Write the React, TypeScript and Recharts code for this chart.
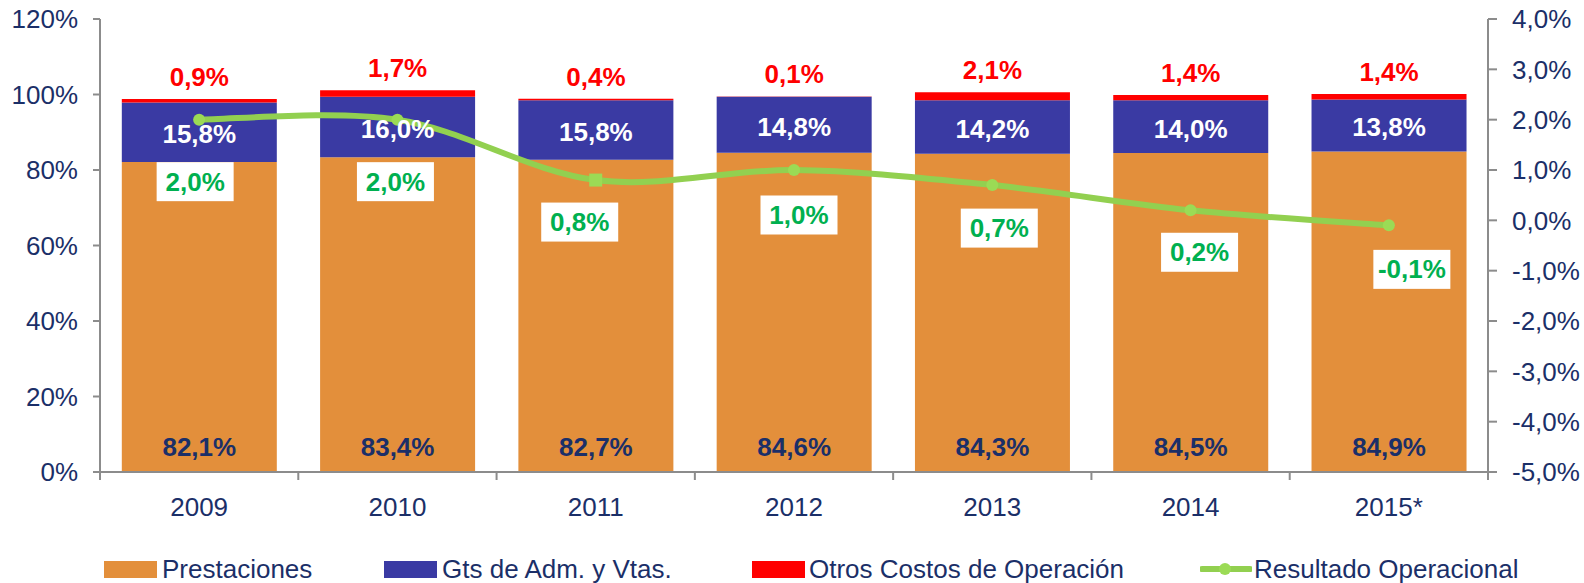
import { ComposedChart, Bar, Line, XAxis, YAxis, Legend, LabelList } from "recharts";

const years = ["2009", "2010", "2011", "2012", "2013", "2014", "2015*"];
const prestaciones = [82.1, 83.4, 82.7, 84.6, 84.3, 84.5, 84.9];
const gastosAdm = [15.8, 16.0, 15.8, 14.8, 14.2, 14.0, 13.8];
const otrosCostos = [0.9, 1.7, 0.4, 0.1, 2.1, 1.4, 1.4];
const resultado = [2.0, 2.0, 0.8, 1.0, 0.7, 0.2, -0.1];
const leftTicks = [0, 20, 40, 60, 80, 100, 120];
const rightTicks = [-5, -4, -3, -2, -1, 0, 1, 2, 3, 4];

const data = years.map((year, i) => ({
  year,
  prestaciones: prestaciones[i],
  gastosAdm: gastosAdm[i],
  otrosCostos: otrosCostos[i],
  resultado: resultado[i],
}));

// label box nudges (from the point) for the result labels
const resultShift = [[-4, 62], [-2, 62], [-16, 42], [5, 45], [7, 43], [9, 42], [23, 44]];
// the 2011 marker is drawn as a square in the original
const squareMarker = [false, false, true, false, false, false, false];

const FONT = "'Liberation Sans', Arial, sans-serif";
const NAVY = "#1B2F68";
const AXIS = "#8C8C8C";
const ORANGE = "#E38F3B";
const BLUE = "#3A3AA3";
const RED = "#FF0000";
const LINE_GREEN = "#92D050";
const TEXT_GREEN = "#00B050";
const CAT_W = 1388 / 7;

const pct = (v: number, d: number) => v.toFixed(d).replace(".", ",") + "%";

// Excel-like smoothed line (Catmull-Rom style bezier)
function smoothCurve(context: any) {
  let pts: number[][] = [];
  return {
    areaStart() {},
    areaEnd() {},
    lineStart() { pts = []; },
    point(x: number, y: number) { pts.push([+x, +y]); },
    lineEnd() {
      if (!pts.length) return;
      context.moveTo(pts[0][0], pts[0][1]);
      for (let i = 0; i < pts.length - 1; i++) {
        const p0 = pts[i - 1] || pts[i];
        const p1 = pts[i];
        const p2 = pts[i + 1];
        const p3 = pts[i + 2] || p2;
        context.bezierCurveTo(
          p1[0] + (p2[0] - p0[0]) / 6, p1[1] + (p2[1] - p0[1]) / 6,
          p2[0] - (p3[0] - p1[0]) / 6, p2[1] - (p3[1] - p1[1]) / 6,
          p2[0], p2[1]
        );
      }
    },
  };
}

const ResultDot = (props: any) => {
  const { cx, cy, index } = props;
  if (squareMarker[index]) {
    return <rect key={index} x={cx - 6.5} y={cy - 6.5} width={13} height={13} fill="#9BDB55" />;
  }
  return <circle key={index} cx={cx} cy={cy} r={6} fill="#9BDB55" />;
};

const YearTick = (props: any) => {
  const { x, y, payload, index } = props;
  return (
    <g>
      <line x1={x - CAT_W / 2} x2={x - CAT_W / 2} y1={y - 8} y2={y} stroke={AXIS} strokeWidth={2} />
      {index === years.length - 1 && (
        <line x1={x + CAT_W / 2} x2={x + CAT_W / 2} y1={y - 8} y2={y} stroke={AXIS} strokeWidth={2} />
      )}
      <text x={x} y={y + 27} textAnchor="middle" dominantBaseline="central" fontSize={26} fill={NAVY} fontFamily={FONT}>
        {payload.value}
      </text>
    </g>
  );
};

const BottomLabel = (props: any) => {
  const { x, y, width, height, value } = props;
  return (
    <text x={x + width / 2} y={y + height - 25} textAnchor="middle" dominantBaseline="central"
      fontSize={26} fontWeight="bold" fill={NAVY} fontFamily={FONT}>
      {pct(value, 1)}
    </text>
  );
};

const MiddleLabel = (props: any) => {
  const { x, y, width, height, value } = props;
  return (
    <text x={x + width / 2} y={y + height / 2 + 2} textAnchor="middle" dominantBaseline="central"
      fontSize={26} fontWeight="bold" fill="#FFFFFF" fontFamily={FONT}>
      {pct(value, 1)}
    </text>
  );
};

const TopLabel = (props: any) => {
  const { x, y, width, value } = props;
  return (
    <text x={x + width / 2} y={y - 22} textAnchor="middle" dominantBaseline="central"
      fontSize={26} fontWeight="bold" fill={RED} fontFamily={FONT}>
      {pct(value, 1)}
    </text>
  );
};

const ResultLabel = (props: any) => {
  const { x, y, value, index } = props;
  const [dx, dy] = resultShift[index] || [0, 44];
  const cx = x + dx;
  const cy = y + dy;
  return (
    <g>
      <rect x={cx - 38.5} y={cy - 19.5} width={77} height={39} fill="#FFFFFF" />
      <text x={cx} y={cy} textAnchor="middle" dominantBaseline="central"
        fontSize={26} fontWeight="bold" fill={TEXT_GREEN} fontFamily={FONT}>
        {pct(value, 1)}
      </text>
    </g>
  );
};

const legendItems = [
  { name: "Prestaciones", color: ORANGE, x: 104, tx: 162, kind: "box" },
  { name: "Gts de Adm. y Vtas.", color: BLUE, x: 384, tx: 442, kind: "box" },
  { name: "Otros Costos de Operación", color: RED, x: 752, tx: 809, kind: "box" },
  { name: "Resultado Operacional", color: LINE_GREEN, x: 1200, tx: 1254, kind: "line" },
];

const LegendContent = () => (
  <div style={{ position: "relative", width: 1584, height: 61, fontFamily: FONT, fontSize: 26, color: NAVY }}>
    {legendItems.map((it) => (
      <div key={it.name}>
        {it.kind === "box" ? (
          <div style={{ position: "absolute", left: it.x, top: 39, width: 53, height: 17, background: it.color }} />
        ) : (
          <svg style={{ position: "absolute", left: it.x, top: 37 }} width={52} height={20}>
            <line x1={2} x2={50} y1={10} y2={10} stroke={it.color} strokeWidth={6} strokeLinecap="round" />
            <circle cx={25} cy={10} r={6} fill="#9BDB55" />
          </svg>
        )}
        <div style={{ position: "absolute", left: it.tx, top: 47, lineHeight: "0px", whiteSpace: "nowrap" }}>
          {it.name}
        </div>
      </div>
    ))}
  </div>
);

export default function App() {
  return (
    <div style={{ position: "absolute", left: 0, top: 0, width: 1584, height: 583, background: "#FFFFFF" }}>
      <ComposedChart width={1584} height={583} data={data} barCategoryGap="11%"
        margin={{ top: 19, right: 0, bottom: 0, left: 0 }}>
        <XAxis dataKey="year" height={50} axisLine={{ stroke: AXIS, strokeWidth: 2 }}
          tickLine={false} tickSize={8} tickMargin={0} tick={<YearTick />} interval={0} />
        <YAxis yAxisId="left" width={100} domain={[0, 120]} ticks={leftTicks} interval={0}
          tickFormatter={(v: number) => v + "%"}
          axisLine={{ stroke: AXIS, strokeWidth: 2 }} tickLine={{ stroke: AXIS, strokeWidth: 2 }}
          tickSize={7} tickMargin={15}
          tick={{ fill: NAVY, fontSize: 26, fontFamily: FONT }} />
        <YAxis yAxisId="right" orientation="right" width={96} domain={[-5, 4]} ticks={rightTicks} interval={0}
          tickFormatter={(v: number) => pct(v, 1)}
          axisLine={{ stroke: AXIS, strokeWidth: 2 }} tickLine={{ stroke: AXIS, strokeWidth: 2 }}
          tickSize={9} tickMargin={15}
          tick={{ fill: NAVY, fontSize: 26, fontFamily: FONT, textAnchor: "start" }} />
        <Legend verticalAlign="bottom" align="left" content={<LegendContent />}
          wrapperStyle={{ left: 0, width: 1584, height: 61 }} />
        <Bar yAxisId="left" dataKey="prestaciones" name="Prestaciones" stackId="a" fill={ORANGE} isAnimationActive={false}>
          <LabelList dataKey="prestaciones" content={<BottomLabel />} />
        </Bar>
        <Bar yAxisId="left" dataKey="gastosAdm" name="Gts de Adm. y Vtas." stackId="a" fill={BLUE} isAnimationActive={false}>
          <LabelList dataKey="gastosAdm" content={<MiddleLabel />} />
        </Bar>
        <Bar yAxisId="left" dataKey="otrosCostos" name="Otros Costos de Operación" stackId="a" fill={RED} isAnimationActive={false}>
          <LabelList dataKey="otrosCostos" content={<TopLabel />} />
        </Bar>
        <Line yAxisId="right" dataKey="resultado" name="Resultado Operacional" type={smoothCurve as any}
          stroke={LINE_GREEN} strokeWidth={6}
          dot={<ResultDot />}
          activeDot={false} isAnimationActive={false}>
          <LabelList dataKey="resultado" content={<ResultLabel />} />
        </Line>
      </ComposedChart>
    </div>
  );
}
